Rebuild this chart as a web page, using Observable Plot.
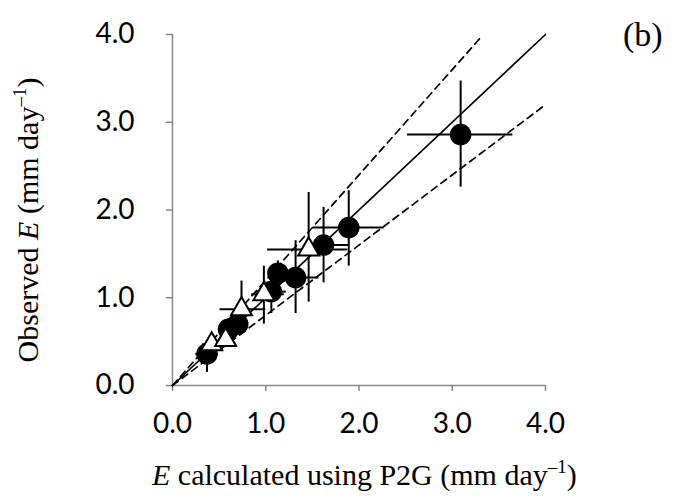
<!DOCTYPE html>
<html><head><meta charset="utf-8">
<script src="https://cdn.jsdelivr.net/npm/d3@7"></script>
<script src="https://cdn.jsdelivr.net/npm/@observablehq/plot@0.6"></script>
<style>body{margin:0;background:#fff} #chart{width:679px;height:498px}</style>
</head><body><div id="chart"></div>
<script>
// Circles (filled): calculated E (x), observed E (y), and error ranges
const circX    = [0.37, 0.60, 0.70, 1.06, 1.13, 1.32, 1.62, 1.89, 3.09];
const circY    = [0.36, 0.64, 0.70, 1.07, 1.28, 1.23, 1.60, 1.80, 2.86];
const circXlo  = [0.25, 0.50, 0.60, 0.90, 1.05, 1.07, 1.42, 1.51, 2.52];
const circXhi  = [0.49, 0.70, 0.80, 1.22, 1.30, 1.57, 1.90, 2.27, 3.65];
const circYlo  = [0.15, 0.52, 0.60, 0.82, 1.13, 0.82, 1.17, 1.36, 2.26];
const circYhi  = [0.48, 0.76, 0.80, 1.25, 1.42, 1.65, 2.03, 2.22, 3.47];
// Triangles (open)
const triX     = [0.42, 0.57, 0.74, 0.98, 1.46];
const triY     = [0.47, 0.52, 0.87, 1.04, 1.55];
const triXlo   = [0.32, 0.50, 0.51, 0.85, 1.02];
const triXhi   = [0.52, 0.65, 1.00, 1.20, 1.88];
const triYlo   = [0.38, 0.45, 0.70, 0.70, 0.95];
const triYhi   = [0.60, 0.60, 1.19, 1.36, 2.20];
// Reference lines: 1:1 and ±20 %
const lineOne   = [[0, 0], [4, 4]];
const lineUpper = [[0, 0], [3.3, 3.96]];
const lineLower = [[0, 0], [4, 3.2]];
const ticks = [0, 1, 2, 3, 4];

const circles = circX.map((x, i) => ({x, y: circY[i], xlo: circXlo[i], xhi: circXhi[i], ylo: circYlo[i], yhi: circYhi[i]}));
const tris = triX.map((x, i) => ({x, y: triY[i], xlo: triXlo[i], xhi: triXhi[i], ylo: triYlo[i], yhi: triYhi[i]}));

const axisGray = "#878787";
const plot = Plot.plot({
  width: 679, height: 498,
  marginLeft: 172, marginRight: 134, marginTop: 34, marginBottom: 113,
  style: {fontFamily: "Lato, sans-serif", background: "white", overflow: "visible"},
  x: {domain: [0, 4]},
  y: {domain: [0, 4]},
  marks: [
    Plot.ruleY([0], {stroke: axisGray, strokeWidth: 1.5}),
    Plot.ruleX([0], {stroke: axisGray, strokeWidth: 1.5}),
    Plot.axisX({ticks, tickFormat: d => d.toFixed(1), tickSize: 6, tickPadding: 22, stroke: axisGray, fill: "black", strokeWidth: 1.5, label: null}),
    Plot.axisY({ticks, tickFormat: d => d.toFixed(1), tickSize: 6, tickPadding: 32, stroke: axisGray, fill: "black", strokeWidth: 1.5, label: null}),
    Plot.line(lineOne, {x: d => d[0], y: d => d[1], stroke: "black", strokeWidth: 1.7}),
    Plot.line(lineUpper, {x: d => d[0], y: d => d[1], stroke: "black", strokeWidth: 1.7, strokeDasharray: "7,5"}),
    Plot.line(lineLower, {x: d => d[0], y: d => d[1], stroke: "black", strokeWidth: 1.7, strokeDasharray: "7,5"}),
    Plot.ruleX(circles, {x: "x", y1: "ylo", y2: "yhi", stroke: "black", strokeWidth: 2}),
    Plot.ruleY(circles, {y: "y", x1: "xlo", x2: "xhi", stroke: "black", strokeWidth: 2}),
    Plot.dot(circles, {x: "x", y: "y", r: 10, fill: "black", stroke: "black"}),
    Plot.ruleX(tris, {x: "x", y1: "ylo", y2: "yhi", stroke: "black", strokeWidth: 2}),
    Plot.ruleY(tris, {y: "y", x1: "xlo", x2: "xhi", stroke: "black", strokeWidth: 2}),
    Plot.dot(tris, {x: "x", y: "y", r: 7.8, symbol: "triangle", fill: "white", stroke: "black", strokeWidth: 2})
  ]
});
document.getElementById("chart").append(plot);

const svg = d3.select(plot);
svg.selectAll('g[aria-label$="tick label"]').attr("font-size", 28).attr("font-family", "Lato, sans-serif");
const serif = "'Liberation Serif', 'Times New Roman', serif";
// x title
const xt = svg.append("text").attr("x", 152).attr("y", 485).attr("text-anchor", "start")
  .attr("font-family", serif).attr("font-size", 30).attr("fill", "black");
xt.append("tspan").attr("font-style", "italic").text("E");
xt.append("tspan").text(" calculated using P2G (mm day");
xt.append("tspan").attr("font-size", 19).attr("dy", -12).text("–1");
xt.append("tspan").attr("dy", 12).text(")");
// y title
const yt = svg.append("text").attr("transform", "translate(38,220) rotate(-90)").attr("text-anchor", "middle")
  .attr("font-family", serif).attr("font-size", 30).attr("fill", "black");
yt.append("tspan").text("Observed ");
yt.append("tspan").attr("font-style", "italic").text("E");
yt.append("tspan").text(" (mm day");
yt.append("tspan").attr("font-size", 19).attr("dy", -12).text("–1");
yt.append("tspan").attr("dy", 12).text(")");
// panel label
svg.append("text").attr("x", 623).attr("y", 46).attr("text-anchor", "start")
  .attr("font-family", serif).attr("font-size", 34).attr("fill", "black").text("(b)");
</script>
</body></html>
